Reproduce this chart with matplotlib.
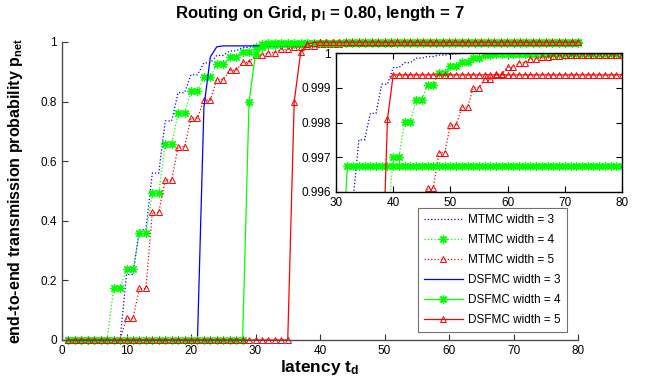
import matplotlib
matplotlib.use('Agg')
from matplotlib import pyplot as plt

plt.rcParams['font.family'] = ['Liberation Sans', 'DejaVu Sans']
plt.rcParams['mathtext.fontset'] = 'custom'
plt.rcParams['mathtext.rm'] = 'Liberation Sans'
plt.rcParams['mathtext.bf'] = 'Liberation Sans:bold'
plt.rcParams['mathtext.it'] = 'Liberation Sans:italic'

# data
latency = list(range(1, 81))

mtmc_w3 = [0]*9 + [0.22, 0.22, 0.37, 0.37, 0.56, 0.56, 0.735, 0.735, 0.83, 0.83,
                   0.89, 0.89, 0.93, 0.93, 0.955, 0.955, 0.97, 0.97, 0.982, 0.982,
                   0.99, 0.99, 0.9958, 0.9958, 0.9975, 0.9975, 0.99826, 0.99826,
                   0.9991, 0.9991, 0.99958, 0.99958, 0.99972, 0.99972, 0.99985, 0.99985,
                   0.9999, 0.9999, 0.99994, 0.99994, 0.99997, 0.99997] + [0.99999]*29
mtmc_w4 = [0]*7 + [0.173, 0.173, 0.238, 0.238, 0.358, 0.358, 0.494, 0.494, 0.657, 0.657,
                   0.761, 0.761, 0.835, 0.835, 0.882, 0.882, 0.927, 0.927, 0.951, 0.951,
                   0.967, 0.967, 0.984, 0.984, 0.99, 0.99, 0.9925, 0.9925, 0.9942, 0.9942,
                   0.995, 0.995, 0.99702, 0.99702, 0.99802, 0.99802, 0.99865, 0.99865,
                   0.99908, 0.99908, 0.99943, 0.99943, 0.99963, 0.99963, 0.99973, 0.99973,
                   0.99986, 0.99986, 0.99994, 0.99994] + [0.99998]*23
mtmc_w5 = [0]*9 + [0.073, 0.073, 0.173, 0.173, 0.428, 0.428, 0.537, 0.537, 0.649, 0.649,
                   0.744, 0.744, 0.805, 0.805, 0.874, 0.874, 0.905, 0.905, 0.932, 0.932,
                   0.955, 0.955, 0.964, 0.964, 0.975, 0.975, 0.983, 0.983, 0.988, 0.988,
                   0.992, 0.992, 0.9945, 0.9945, 0.9955, 0.9955, 0.99611, 0.99611,
                   0.99713, 0.99713, 0.99793, 0.99793, 0.99844, 0.99844, 0.999, 0.999,
                   0.99925, 0.99925, 0.9994, 0.9994, 0.99959, 0.99959, 0.99972, 0.99972,
                   0.99983, 0.99983, 0.99989, 0.99989, 0.99992, 0.99992] + [0.99995]*11
dsfmc_w3 = [0]*21 + [0.78, 0.95, 0.984] + [0.987]*56
dsfmc_w4 = [0]*28 + [0.8, 0.96, 0.994] + [0.99675]*49
dsfmc_w5 = [0]*35 + [0.8, 0.965, 0.993, 0.9981] + [0.99937]*41

labels = ['MTMC width = 3', 'MTMC width = 4', 'MTMC width = 5',
          'DSFMC width = 3', 'DSFMC width = 4', 'DSFMC width = 5']

star = (8, 2, 0)


def draw(ax, clip):
    kw = dict(lw=0.9, clip_on=clip)
    ax.plot(latency, mtmc_w3, ':', color='b', label=labels[0], **kw)
    ax.plot(latency, mtmc_w4, ':', color='#00ff00', marker=star,
            ms=6, mew=0.9, label=labels[1], **kw)
    ax.plot(latency, mtmc_w5, ':', color='r', marker='^', mfc='none',
            ms=5, mew=0.7, label=labels[2], **kw)
    ax.plot(latency, dsfmc_w3, '-', color='b', label=labels[3], **kw)
    ax.plot(latency, dsfmc_w4, '-', color='#00ff00', marker=star,
            ms=6, mew=0.9, label=labels[4], **kw)
    ax.plot(latency, dsfmc_w5, '-', color='r', marker='^', mfc='none',
            ms=5, mew=0.7, label=labels[5], **kw)


fig = plt.figure(figsize=(6.46, 3.86), dpi=100)

ax = fig.add_axes([62/646, 1-340/386, 516/646, 298/386])
draw(ax, False)
ax.set_xlim(0, 80)
ax.set_ylim(0, 1)
ax.set_xticks(range(0, 81, 10))
ax.set_yticks([0, 0.2, 0.4, 0.6, 0.8, 1])
ax.set_yticklabels(['0', '0.2', '0.4', '0.6', '0.8', '1'])
ax.spines['top'].set_visible(False)
ax.spines['right'].set_visible(False)
for s in ['left', 'bottom']:
    ax.spines[s].set_color('0.3')
    ax.spines[s].set_linewidth(1.0)
ax.tick_params(direction='in', length=4, width=0.8, labelsize=8.5, color='0.2')

ax.set_xlabel(r'latency $\mathbf{t_d}$', fontsize=12.5, fontweight='bold')
ax.set_ylabel(r'end-to-end transmission probability $\mathbf{p_{net}}$',
              fontsize=11.5, fontweight='bold')
ax.xaxis.set_label_coords(0.5, -0.062)
ax.yaxis.set_label_coords(-0.072, 0.5)
ax.set_title(r'Routing on Grid, $\mathbf{p_l}$ = 0.80, length = 7',
             fontsize=12, fontweight='bold', pad=17)

leg = ax.legend(loc='lower right', bbox_to_anchor=(567/646, 1-332/386),
                bbox_transform=fig.transFigure, fontsize=8.5, numpoints=1,
                handlelength=3.3, handletextpad=0.5, labelspacing=0.68,
                borderpad=0.5, fancybox=False, borderaxespad=0)
leg.get_frame().set_edgecolor('0.3')
leg.get_frame().set_linewidth(0.8)

axin = fig.add_axes([336/646, 1-192/386, 286/646, 139/386])
draw(axin, True)
axin.set_xlim(30, 80)
axin.set_ylim(0.996, 1)
axin.set_xticks(range(30, 81, 10))
axin.set_yticks([0.996, 0.997, 0.998, 0.999, 1])
axin.set_yticklabels(['0.996', '0.997', '0.998', '0.999', '1'])
axin.tick_params(direction='in', length=4, width=0.8, labelsize=8.5,
                 top=True, right=True)
for s in axin.spines.values():
    s.set_linewidth(1.0)

plt.savefig('out.png', dpi=100)
